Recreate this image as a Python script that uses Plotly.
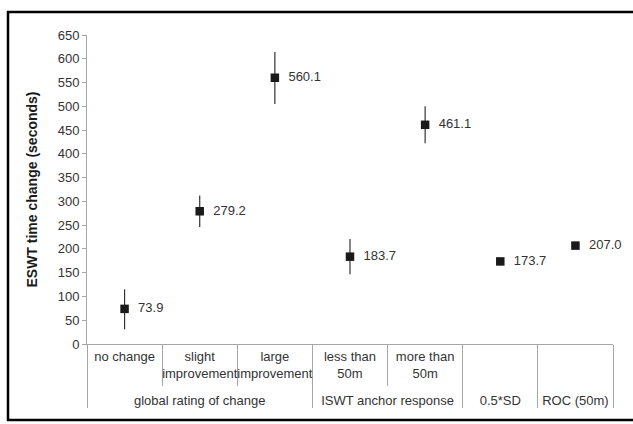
import plotly.graph_objects as go

groups = ["global rating of change", "global rating of change", "global rating of change",
          "ISWT anchor response", "ISWT anchor response", "0.5*SD", "ROC (50m)"]
categories = ["no change", "slight<br>improvement", "large<br>improvement",
              "less than<br>50m", "more than<br>50m", "\u00a0", "\u00a0\u00a0"]
values = [73.9, 279.2, 560.1, 183.7, 461.1, 173.7, 207.0]
err_plus = [41, 33, 54, 37, 39, 0, 0]
err_minus = [43, 33, 55, 37, 39, 0, 0]
labels = ["73.9", "279.2", "560.1", "183.7", "461.1", "173.7", "207.0"]

FONT = "Liberation Sans, Arial"

# pad every first-tier label to three lines so the group tier sits lower
tick_cats = [c + "<br>\u00a0" * (1 - c.count("<br>")) + "<br><sup>\u00a0</sup>" for c in categories]

fig = go.Figure()
fig.add_trace(go.Scatter(
    x=[groups, tick_cats], y=values, mode="markers+text",
    marker=dict(symbol="square", size=8.5, color="#1a1a1a"),
    error_y=dict(type="data", symmetric=False, array=err_plus, arrayminus=err_minus,
                 color="#333333", thickness=1.2, width=0),
    text=["  " + t for t in labels], textposition="middle right",
    textfont=dict(family=FONT, size=13, color="#333333"),
    cliponaxis=False, showlegend=False, hoverinfo="skip",
))

fig.update_layout(
    width=633, height=424,
    margin=dict(l=87, r=20, t=35, b=80),
    paper_bgcolor="white", plot_bgcolor="white",
    font=dict(family=FONT, size=13, color="#333333"),
    xaxis=dict(type="multicategory", range=[-0.5, len(values) - 0.5],
               showline=True, linecolor="#a6a6a6", linewidth=1,
               tickson="boundaries", ticks="outside", ticklen=41, tickcolor="#a6a6a6",
               showdividers=True, dividercolor="#a6a6a6", dividerwidth=1, tickangle=0,
               automargin=False,
               showgrid=False, tickfont=dict(size=13, color="#333333")),
    yaxis=dict(range=[0, 650], dtick=50, showline=True, linecolor="#a6a6a6", linewidth=1,
               ticks="outside", ticklen=4, tickcolor="#a6a6a6", showgrid=False,
               zeroline=False, tickfont=dict(size=13, color="#333333"), automargin=False,
               title=dict(text="<b>ESWT time change (seconds)</b>",
                          font=dict(size=14, color="#1a1a1a"), standoff=16)),
    shapes=[dict(type="rect", xref="paper", yref="paper",
                 x0=(8 - 87) / 526, x1=(680 - 87) / 526,
                 y0=(344 - 420) / 309, y1=(344 - 12) / 309,
                 line=dict(color="black", width=2.5), fillcolor="rgba(0,0,0,0)")],
)

fig.write_html("out.html", config={"displayModeBar": False},
               post_script="document.body.style.margin='0px';")
